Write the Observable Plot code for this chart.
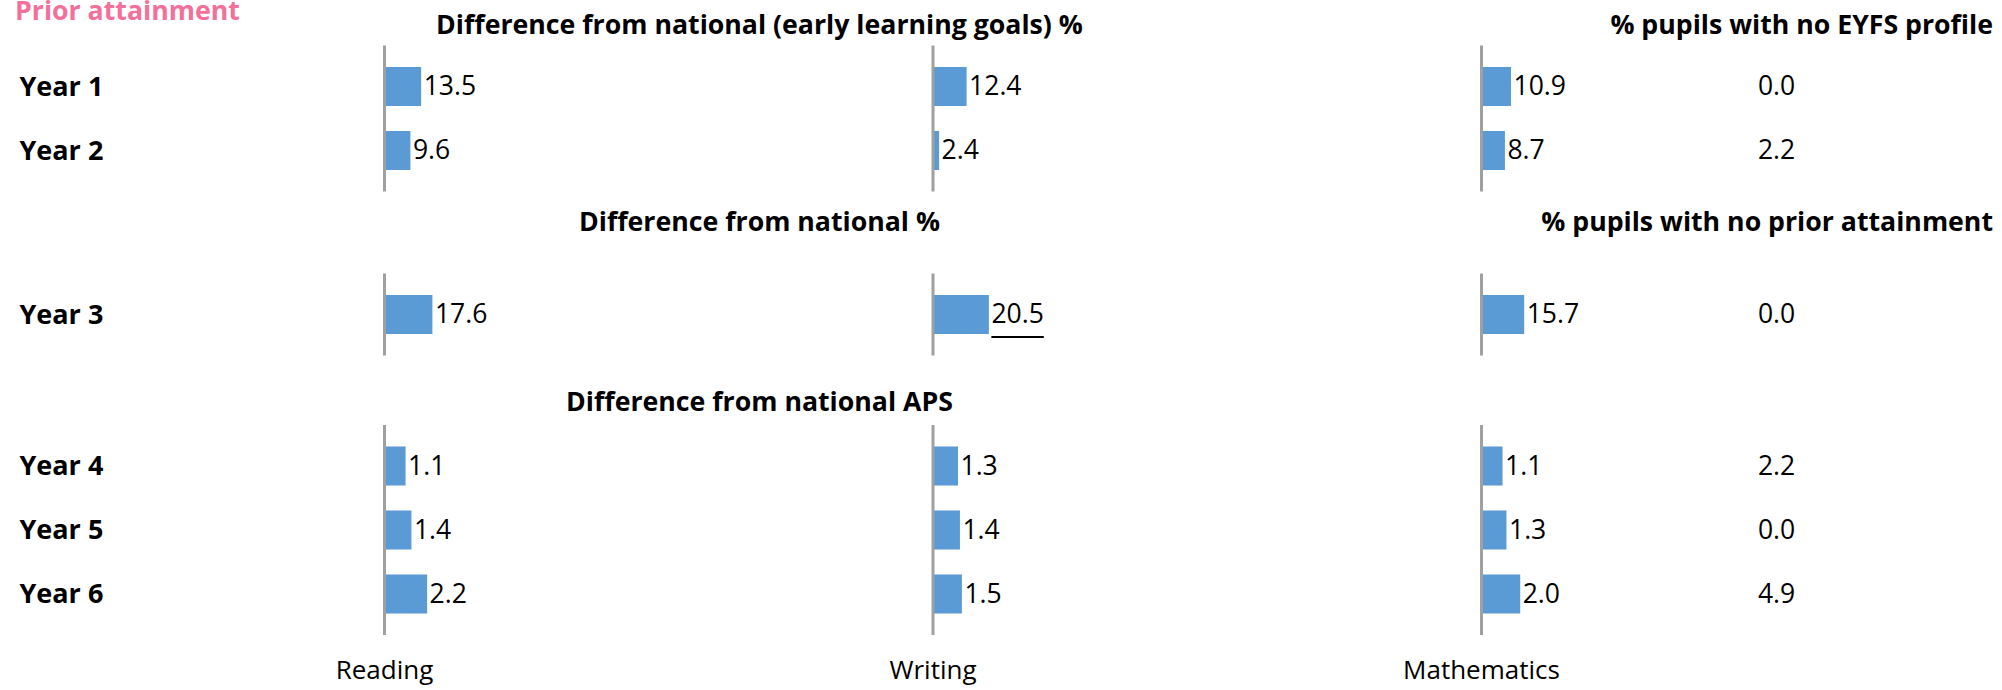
<!DOCTYPE html>
<html>
<head>
<meta charset="utf-8">
<script src="https://cdn.jsdelivr.net/npm/d3@7"></script>
<script src="https://cdn.jsdelivr.net/npm/@observablehq/plot@0.6"></script>
<style>
  html, body { margin: 0; padding: 0; background: #fff; }
  #wrap { position: relative; width: 2002px; height: 690px; overflow: hidden; font-family: "Open Sans", sans-serif; }
  #wrap svg { position: absolute; left: 0; }
  .ttl { position: absolute; white-space: nowrap; font-weight: 700; font-size: 26.7px; line-height: 18.7px; color: #000; }
</style>
</head>
<body>
<div id="wrap"></div>
<script>
// ---------------- data ----------------
const pageTitle = "Prior attainment";
const subjects = ["Reading", "Writing", "Mathematics"];
const years = ["Year 1", "Year 2", "Year 3", "Year 4", "Year 5", "Year 6"];
const reading = [13.5, 9.6, 17.6, 1.1, 1.4, 2.2];
const writing = [12.4, 2.4, 20.5, 1.3, 1.4, 1.5];
const mathematics = [10.9, 8.7, 15.7, 1.1, 1.3, 2.0];
const noPrior = [0.0, 2.2, 0.0, 2.2, 0.0, 4.9];
const significant = [["Year 3", "Writing"]];
const groupYears = [["Year 1", "Year 2"], ["Year 3"], ["Year 4", "Year 5", "Year 6"]];
const groupTitles = [
  "Difference from national (early learning goals) %",
  "Difference from national %",
  "Difference from national APS"
];
const sideTitles = ["% pupils with no EYFS profile", "% pupils with no prior attainment", ""];
const series = [reading, writing, mathematics];

// ---------------- layout ----------------
const W = 2002;
const AXIS0 = 384;      // left of first facet
const STEP = 548.5;     // facet step
const FACET_W = 500;    // facet width
const ROW = 64;
const TITLE_FS = 26.7;
const TITLE_LH = 18.7;
const layout = [
  {top: 0,   height: 200, frameTop: 45.5, pxPerUnit: 2.75, titleBaseline: 34.5},
  {top: 200, height: 180, frameTop: 73.5, pxPerUnit: 2.75, titleBaseline: 231.7},
  {top: 380, height: 310, frameTop: 45,   pxPerUnit: 19.6, titleBaseline: 412}
];
const SIG_MARK = "#000001";

const wrap = document.getElementById("wrap");
// baseline offset from top of a line box (Open Sans: ascent 1.069em, content 1.362em)
const baseOff = (fs, lh) => (lh - 1.362 * fs) / 2 + 1.069 * fs;

function addDiv(text, css) {
  const d = document.createElement("div");
  d.className = "ttl";
  d.textContent = text;
  Object.assign(d.style, css);
  wrap.appendChild(d);
  return d;
}

function makeGroup(g) {
  const rows = groupYears[g];
  const L = layout[g];
  const frameH = rows.length * ROW + 18;
  const data = [];
  for (const yr of rows) {
    const i = years.indexOf(yr);
    subjects.forEach((s, j) => data.push({
      year: yr, subject: s, value: series[j][i],
      sig: significant.some(([a, b]) => a === yr && b === s)
    }));
  }
  const extra = rows.map(yr => ({year: yr, value: noPrior[years.indexOf(yr)]}));
  const fmt = d => d.value.toFixed(1);
  const svg = Plot.plot({
    width: W,
    height: L.height,
    marginLeft: AXIS0,
    marginRight: W - AXIS0 - (2 * STEP + FACET_W),
    marginTop: L.frameTop,
    marginBottom: L.height - L.frameTop - frameH,
    style: {fontFamily: '"Open Sans", sans-serif', fontSize: "26px", color: "#000", background: "transparent", overflow: "visible"},
    fx: {domain: subjects, paddingInner: (STEP - FACET_W) / STEP, paddingOuter: 0, round: false, axis: null, label: null},
    x: {domain: [0, FACET_W / L.pxPerUnit], axis: null},
    y: {domain: rows, paddingInner: 0.39, paddingOuter: 0.3356, round: false, axis: null},
    marks: [
      Plot.barX(data, {x: "value", y: "year", fx: "subject", fill: "#5B9BD5"}),
      Plot.ruleX([0], {stroke: "#A0A0A0", strokeWidth: 3}),
      Plot.text(data.filter(d => !d.sig), {x: "value", y: "year", fx: "subject", text: fmt, textAnchor: "start", dx: 2, fontSize: 26.5, fill: "#000"}),
      Plot.text(data.filter(d => d.sig), {x: "value", y: "year", fx: "subject", text: fmt, textAnchor: "start", dx: 2, fontSize: 26.5, fill: SIG_MARK}),
      Plot.text(rows, {y: d => d, text: d => d, fx: () => "Reading", frameAnchor: "left", dx: 19 - AXIS0, textAnchor: "start", fontWeight: "bold", fontSize: 27, fill: "#000"}),
      Plot.text(extra, {y: "year", text: fmt, fx: () => "Mathematics", frameAnchor: "left", dx: 295, textAnchor: "middle", fontSize: 26.5, fill: "#000"}),
      g === 2 ? Plot.text(subjects, {fx: d => d, text: d => d, frameAnchor: "bottom-left", dy: 43, textAnchor: "middle", fill: "#000"}) : null
    ]
  });
  svg.style.top = L.top + "px";
  wrap.appendChild(svg);

  // underline significant values
  const sr = svg.getBoundingClientRect();
  svg.querySelectorAll(`[fill="${SIG_MARK}"] text, text[fill="${SIG_MARK}"]`).forEach(t => {
    const r = t.getBoundingClientRect();
    if (!r.width) return;
    const line = document.createElementNS("http://www.w3.org/2000/svg", "line");
    const yy = r.bottom - sr.top + 5.5;
    line.setAttribute("x1", r.left - sr.left);
    line.setAttribute("x2", r.right - sr.left);
    line.setAttribute("y1", yy);
    line.setAttribute("y2", yy);
    line.setAttribute("stroke", "#000");
    line.setAttribute("stroke-width", 2.2);
    svg.appendChild(line);
  });

  const off = baseOff(TITLE_FS, TITLE_LH);
  addDiv(groupTitles[g], {left: "759.5px", top: (L.titleBaseline - off) + "px", transform: "translateX(-50%)"});
  if (sideTitles[g]) addDiv(sideTitles[g], {right: "9px", top: (L.titleBaseline - off) + "px"});
}

[0, 1, 2].forEach(makeGroup);
addDiv(pageTitle, {left: "15px", top: (21 - baseOff(TITLE_FS, TITLE_LH)) + "px", color: "#F2709A"});
</script>
</body>
</html>
